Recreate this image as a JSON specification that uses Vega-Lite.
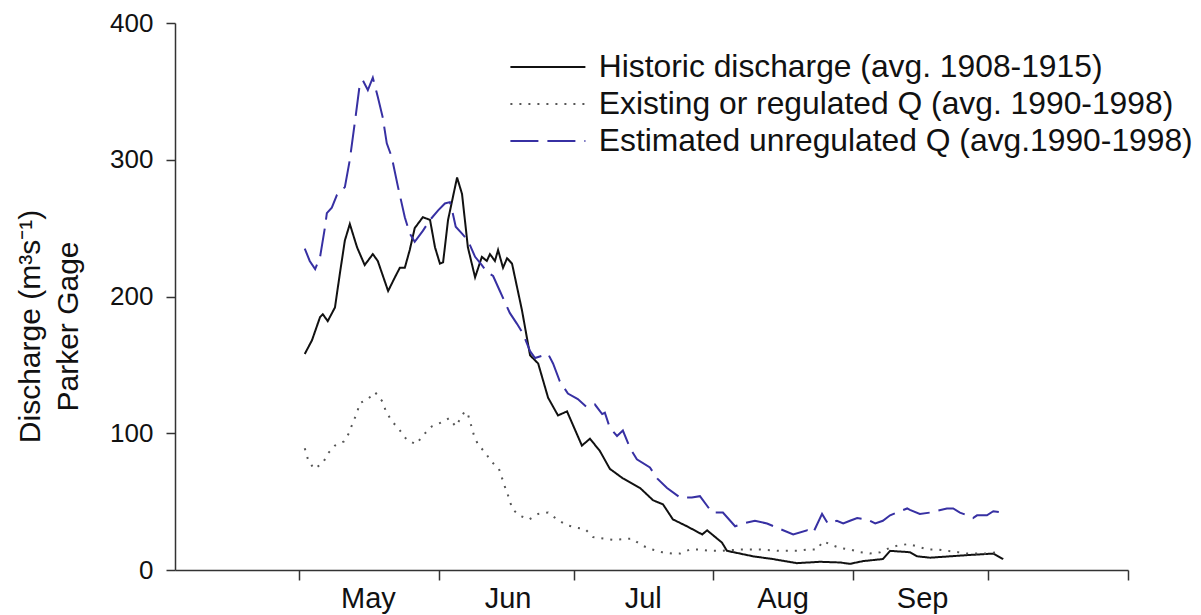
{
  "$schema": "https://vega.github.io/schema/vega-lite/v6.json",
  "autosize": {"type": "none"},
  "padding": {"left": 175, "top": 23, "right": 73, "bottom": 45},
  "width": 953,
  "height": 547,
  "background": "white",
  "config": {
    "view": {"stroke": null},
    "font": "Liberation Sans"
  },
  "data": {
    "values": [
      {"s": "Historic discharge (avg. 1908-1915)", "d": 122.3, "q": 158},
      {"s": "Historic discharge (avg. 1908-1915)", "d": 123.9, "q": 168},
      {"s": "Historic discharge (avg. 1908-1915)", "d": 125.7, "q": 185},
      {"s": "Historic discharge (avg. 1908-1915)", "d": 126.3, "q": 187},
      {"s": "Historic discharge (avg. 1908-1915)", "d": 127.4, "q": 182},
      {"s": "Historic discharge (avg. 1908-1915)", "d": 129.0, "q": 192},
      {"s": "Historic discharge (avg. 1908-1915)", "d": 130.1, "q": 217},
      {"s": "Historic discharge (avg. 1908-1915)", "d": 131.2, "q": 241},
      {"s": "Historic discharge (avg. 1908-1915)", "d": 132.3, "q": 253},
      {"s": "Historic discharge (avg. 1908-1915)", "d": 133.9, "q": 236},
      {"s": "Historic discharge (avg. 1908-1915)", "d": 135.6, "q": 223},
      {"s": "Historic discharge (avg. 1908-1915)", "d": 137.4, "q": 231},
      {"s": "Historic discharge (avg. 1908-1915)", "d": 138.5, "q": 226},
      {"s": "Historic discharge (avg. 1908-1915)", "d": 140.8, "q": 204},
      {"s": "Historic discharge (avg. 1908-1915)", "d": 142.3, "q": 214},
      {"s": "Historic discharge (avg. 1908-1915)", "d": 143.4, "q": 221},
      {"s": "Historic discharge (avg. 1908-1915)", "d": 144.5, "q": 221},
      {"s": "Historic discharge (avg. 1908-1915)", "d": 145.6, "q": 234},
      {"s": "Historic discharge (avg. 1908-1915)", "d": 146.7, "q": 250},
      {"s": "Historic discharge (avg. 1908-1915)", "d": 148.5, "q": 258},
      {"s": "Historic discharge (avg. 1908-1915)", "d": 150.1, "q": 256},
      {"s": "Historic discharge (avg. 1908-1915)", "d": 151.2, "q": 236},
      {"s": "Historic discharge (avg. 1908-1915)", "d": 152.3, "q": 224},
      {"s": "Historic discharge (avg. 1908-1915)", "d": 153.0, "q": 225},
      {"s": "Historic discharge (avg. 1908-1915)", "d": 154.1, "q": 256},
      {"s": "Historic discharge (avg. 1908-1915)", "d": 156.1, "q": 287},
      {"s": "Historic discharge (avg. 1908-1915)", "d": 157.2, "q": 275},
      {"s": "Historic discharge (avg. 1908-1915)", "d": 158.5, "q": 236},
      {"s": "Historic discharge (avg. 1908-1915)", "d": 160.1, "q": 214},
      {"s": "Historic discharge (avg. 1908-1915)", "d": 161.6, "q": 229},
      {"s": "Historic discharge (avg. 1908-1915)", "d": 162.7, "q": 226},
      {"s": "Historic discharge (avg. 1908-1915)", "d": 163.4, "q": 231},
      {"s": "Historic discharge (avg. 1908-1915)", "d": 164.5, "q": 226},
      {"s": "Historic discharge (avg. 1908-1915)", "d": 165.2, "q": 234},
      {"s": "Historic discharge (avg. 1908-1915)", "d": 166.3, "q": 221},
      {"s": "Historic discharge (avg. 1908-1915)", "d": 167.2, "q": 228},
      {"s": "Historic discharge (avg. 1908-1915)", "d": 168.3, "q": 224},
      {"s": "Historic discharge (avg. 1908-1915)", "d": 170.5, "q": 190},
      {"s": "Historic discharge (avg. 1908-1915)", "d": 172.3, "q": 157},
      {"s": "Historic discharge (avg. 1908-1915)", "d": 174.1, "q": 151},
      {"s": "Historic discharge (avg. 1908-1915)", "d": 176.3, "q": 126},
      {"s": "Historic discharge (avg. 1908-1915)", "d": 178.5, "q": 113},
      {"s": "Historic discharge (avg. 1908-1915)", "d": 180.5, "q": 116},
      {"s": "Historic discharge (avg. 1908-1915)", "d": 183.8, "q": 91},
      {"s": "Historic discharge (avg. 1908-1915)", "d": 185.6, "q": 96},
      {"s": "Historic discharge (avg. 1908-1915)", "d": 187.8, "q": 87},
      {"s": "Historic discharge (avg. 1908-1915)", "d": 190.0, "q": 74},
      {"s": "Historic discharge (avg. 1908-1915)", "d": 192.9, "q": 67},
      {"s": "Historic discharge (avg. 1908-1915)", "d": 196.7, "q": 60},
      {"s": "Historic discharge (avg. 1908-1915)", "d": 199.6, "q": 51},
      {"s": "Historic discharge (avg. 1908-1915)", "d": 201.8, "q": 48},
      {"s": "Historic discharge (avg. 1908-1915)", "d": 204.0, "q": 37},
      {"s": "Historic discharge (avg. 1908-1915)", "d": 207.1, "q": 32},
      {"s": "Historic discharge (avg. 1908-1915)", "d": 210.5, "q": 26},
      {"s": "Historic discharge (avg. 1908-1915)", "d": 211.6, "q": 29},
      {"s": "Historic discharge (avg. 1908-1915)", "d": 214.9, "q": 20},
      {"s": "Historic discharge (avg. 1908-1915)", "d": 216.0, "q": 14},
      {"s": "Historic discharge (avg. 1908-1915)", "d": 218.9, "q": 12},
      {"s": "Historic discharge (avg. 1908-1915)", "d": 221.8, "q": 10},
      {"s": "Historic discharge (avg. 1908-1915)", "d": 226.2, "q": 8},
      {"s": "Historic discharge (avg. 1908-1915)", "d": 231.5, "q": 5},
      {"s": "Historic discharge (avg. 1908-1915)", "d": 236.6, "q": 6},
      {"s": "Historic discharge (avg. 1908-1915)", "d": 241.1, "q": 5.5},
      {"s": "Historic discharge (avg. 1908-1915)", "d": 243.3, "q": 4.5},
      {"s": "Historic discharge (avg. 1908-1915)", "d": 246.2, "q": 6.5},
      {"s": "Historic discharge (avg. 1908-1915)", "d": 250.6, "q": 8},
      {"s": "Historic discharge (avg. 1908-1915)", "d": 252.2, "q": 14},
      {"s": "Historic discharge (avg. 1908-1915)", "d": 256.6, "q": 13},
      {"s": "Historic discharge (avg. 1908-1915)", "d": 258.2, "q": 10},
      {"s": "Historic discharge (avg. 1908-1915)", "d": 261.1, "q": 9},
      {"s": "Historic discharge (avg. 1908-1915)", "d": 265.5, "q": 10},
      {"s": "Historic discharge (avg. 1908-1915)", "d": 269.9, "q": 11},
      {"s": "Historic discharge (avg. 1908-1915)", "d": 275.1, "q": 12},
      {"s": "Historic discharge (avg. 1908-1915)", "d": 277.3, "q": 8},

      {"s": "Existing or regulated Q (avg. 1990-1998)", "d": 122.3, "q": 89},
      {"s": "Existing or regulated Q (avg. 1990-1998)", "d": 123.0, "q": 81},
      {"s": "Existing or regulated Q (avg. 1990-1998)", "d": 124.3, "q": 74},
      {"s": "Existing or regulated Q (avg. 1990-1998)", "d": 126.3, "q": 78},
      {"s": "Existing or regulated Q (avg. 1990-1998)", "d": 127.4, "q": 85},
      {"s": "Existing or regulated Q (avg. 1990-1998)", "d": 129.0, "q": 91},
      {"s": "Existing or regulated Q (avg. 1990-1998)", "d": 131.0, "q": 94},
      {"s": "Existing or regulated Q (avg. 1990-1998)", "d": 132.1, "q": 100},
      {"s": "Existing or regulated Q (avg. 1990-1998)", "d": 133.0, "q": 108},
      {"s": "Existing or regulated Q (avg. 1990-1998)", "d": 133.9, "q": 115},
      {"s": "Existing or regulated Q (avg. 1990-1998)", "d": 134.5, "q": 122},
      {"s": "Existing or regulated Q (avg. 1990-1998)", "d": 136.3, "q": 125},
      {"s": "Existing or regulated Q (avg. 1990-1998)", "d": 137.9, "q": 130},
      {"s": "Existing or regulated Q (avg. 1990-1998)", "d": 139.6, "q": 123},
      {"s": "Existing or regulated Q (avg. 1990-1998)", "d": 140.3, "q": 116},
      {"s": "Existing or regulated Q (avg. 1990-1998)", "d": 141.6, "q": 109},
      {"s": "Existing or regulated Q (avg. 1990-1998)", "d": 143.2, "q": 103},
      {"s": "Existing or regulated Q (avg. 1990-1998)", "d": 145.0, "q": 95},
      {"s": "Existing or regulated Q (avg. 1990-1998)", "d": 147.0, "q": 92},
      {"s": "Existing or regulated Q (avg. 1990-1998)", "d": 148.7, "q": 99},
      {"s": "Existing or regulated Q (avg. 1990-1998)", "d": 150.5, "q": 105},
      {"s": "Existing or regulated Q (avg. 1990-1998)", "d": 152.7, "q": 108},
      {"s": "Existing or regulated Q (avg. 1990-1998)", "d": 154.3, "q": 111},
      {"s": "Existing or regulated Q (avg. 1990-1998)", "d": 155.8, "q": 105},
      {"s": "Existing or regulated Q (avg. 1990-1998)", "d": 156.7, "q": 110},
      {"s": "Existing or regulated Q (avg. 1990-1998)", "d": 157.8, "q": 116},
      {"s": "Existing or regulated Q (avg. 1990-1998)", "d": 158.5, "q": 114},
      {"s": "Existing or regulated Q (avg. 1990-1998)", "d": 159.2, "q": 106},
      {"s": "Existing or regulated Q (avg. 1990-1998)", "d": 159.8, "q": 99},
      {"s": "Existing or regulated Q (avg. 1990-1998)", "d": 160.7, "q": 92},
      {"s": "Existing or regulated Q (avg. 1990-1998)", "d": 162.3, "q": 86},
      {"s": "Existing or regulated Q (avg. 1990-1998)", "d": 163.8, "q": 79},
      {"s": "Existing or regulated Q (avg. 1990-1998)", "d": 165.4, "q": 74},
      {"s": "Existing or regulated Q (avg. 1990-1998)", "d": 166.1, "q": 67},
      {"s": "Existing or regulated Q (avg. 1990-1998)", "d": 166.9, "q": 59},
      {"s": "Existing or regulated Q (avg. 1990-1998)", "d": 167.6, "q": 53},
      {"s": "Existing or regulated Q (avg. 1990-1998)", "d": 168.3, "q": 45},
      {"s": "Existing or regulated Q (avg. 1990-1998)", "d": 169.8, "q": 40},
      {"s": "Existing or regulated Q (avg. 1990-1998)", "d": 172.1, "q": 37},
      {"s": "Existing or regulated Q (avg. 1990-1998)", "d": 174.1, "q": 41},
      {"s": "Existing or regulated Q (avg. 1990-1998)", "d": 176.3, "q": 42},
      {"s": "Existing or regulated Q (avg. 1990-1998)", "d": 178.3, "q": 37},
      {"s": "Existing or regulated Q (avg. 1990-1998)", "d": 180.3, "q": 33},
      {"s": "Existing or regulated Q (avg. 1990-1998)", "d": 182.5, "q": 31},
      {"s": "Existing or regulated Q (avg. 1990-1998)", "d": 184.5, "q": 30},
      {"s": "Existing or regulated Q (avg. 1990-1998)", "d": 186.3, "q": 24},
      {"s": "Existing or regulated Q (avg. 1990-1998)", "d": 190.7, "q": 22},
      {"s": "Existing or regulated Q (avg. 1990-1998)", "d": 194.9, "q": 23},
      {"s": "Existing or regulated Q (avg. 1990-1998)", "d": 197.1, "q": 18},
      {"s": "Existing or regulated Q (avg. 1990-1998)", "d": 199.4, "q": 15},
      {"s": "Existing or regulated Q (avg. 1990-1998)", "d": 201.6, "q": 13},
      {"s": "Existing or regulated Q (avg. 1990-1998)", "d": 203.8, "q": 12},
      {"s": "Existing or regulated Q (avg. 1990-1998)", "d": 205.6, "q": 12},
      {"s": "Existing or regulated Q (avg. 1990-1998)", "d": 207.8, "q": 15},
      {"s": "Existing or regulated Q (avg. 1990-1998)", "d": 210.0, "q": 15},
      {"s": "Existing or regulated Q (avg. 1990-1998)", "d": 212.2, "q": 14},
      {"s": "Existing or regulated Q (avg. 1990-1998)", "d": 214.5, "q": 14},
      {"s": "Existing or regulated Q (avg. 1990-1998)", "d": 218.9, "q": 15},
      {"s": "Existing or regulated Q (avg. 1990-1998)", "d": 223.3, "q": 15},
      {"s": "Existing or regulated Q (avg. 1990-1998)", "d": 227.8, "q": 14},
      {"s": "Existing or regulated Q (avg. 1990-1998)", "d": 231.5, "q": 14},
      {"s": "Existing or regulated Q (avg. 1990-1998)", "d": 233.8, "q": 15},
      {"s": "Existing or regulated Q (avg. 1990-1998)", "d": 236.0, "q": 15},
      {"s": "Existing or regulated Q (avg. 1990-1998)", "d": 237.3, "q": 21},
      {"s": "Existing or regulated Q (avg. 1990-1998)", "d": 239.5, "q": 18},
      {"s": "Existing or regulated Q (avg. 1990-1998)", "d": 241.1, "q": 16},
      {"s": "Existing or regulated Q (avg. 1990-1998)", "d": 243.3, "q": 15},
      {"s": "Existing or regulated Q (avg. 1990-1998)", "d": 245.6, "q": 13},
      {"s": "Existing or regulated Q (avg. 1990-1998)", "d": 247.7, "q": 12},
      {"s": "Existing or regulated Q (avg. 1990-1998)", "d": 250.0, "q": 13},
      {"s": "Existing or regulated Q (avg. 1990-1998)", "d": 252.0, "q": 16},
      {"s": "Existing or regulated Q (avg. 1990-1998)", "d": 254.0, "q": 18},
      {"s": "Existing or regulated Q (avg. 1990-1998)", "d": 256.4, "q": 19},
      {"s": "Existing or regulated Q (avg. 1990-1998)", "d": 258.4, "q": 17},
      {"s": "Existing or regulated Q (avg. 1990-1998)", "d": 260.6, "q": 15},
      {"s": "Existing or regulated Q (avg. 1990-1998)", "d": 262.8, "q": 15},
      {"s": "Existing or regulated Q (avg. 1990-1998)", "d": 265.1, "q": 14},
      {"s": "Existing or regulated Q (avg. 1990-1998)", "d": 267.3, "q": 13},
      {"s": "Existing or regulated Q (avg. 1990-1998)", "d": 269.3, "q": 12},
      {"s": "Existing or regulated Q (avg. 1990-1998)", "d": 271.5, "q": 12},
      {"s": "Existing or regulated Q (avg. 1990-1998)", "d": 273.7, "q": 12},
      {"s": "Existing or regulated Q (avg. 1990-1998)", "d": 275.9, "q": 13},

      {"s": "Estimated unregulated Q (avg.1990-1998)", "d": 122.3, "q": 235},
      {"s": "Estimated unregulated Q (avg.1990-1998)", "d": 123.4, "q": 226},
      {"s": "Estimated unregulated Q (avg.1990-1998)", "d": 124.6, "q": 220},
      {"s": "Estimated unregulated Q (avg.1990-1998)", "d": 125.7, "q": 229},
      {"s": "Estimated unregulated Q (avg.1990-1998)", "d": 126.8, "q": 251},
      {"s": "Estimated unregulated Q (avg.1990-1998)", "d": 127.2, "q": 261},
      {"s": "Estimated unregulated Q (avg.1990-1998)", "d": 128.3, "q": 265},
      {"s": "Estimated unregulated Q (avg.1990-1998)", "d": 129.4, "q": 274},
      {"s": "Estimated unregulated Q (avg.1990-1998)", "d": 131.2, "q": 280},
      {"s": "Estimated unregulated Q (avg.1990-1998)", "d": 132.3, "q": 300},
      {"s": "Estimated unregulated Q (avg.1990-1998)", "d": 133.4, "q": 327},
      {"s": "Estimated unregulated Q (avg.1990-1998)", "d": 134.5, "q": 355},
      {"s": "Estimated unregulated Q (avg.1990-1998)", "d": 135.2, "q": 358},
      {"s": "Estimated unregulated Q (avg.1990-1998)", "d": 136.3, "q": 351},
      {"s": "Estimated unregulated Q (avg.1990-1998)", "d": 137.4, "q": 360},
      {"s": "Estimated unregulated Q (avg.1990-1998)", "d": 138.5, "q": 346},
      {"s": "Estimated unregulated Q (avg.1990-1998)", "d": 139.6, "q": 331},
      {"s": "Estimated unregulated Q (avg.1990-1998)", "d": 140.5, "q": 312},
      {"s": "Estimated unregulated Q (avg.1990-1998)", "d": 141.6, "q": 302},
      {"s": "Estimated unregulated Q (avg.1990-1998)", "d": 143.0, "q": 280},
      {"s": "Estimated unregulated Q (avg.1990-1998)", "d": 144.5, "q": 258},
      {"s": "Estimated unregulated Q (avg.1990-1998)", "d": 145.6, "q": 246},
      {"s": "Estimated unregulated Q (avg.1990-1998)", "d": 146.7, "q": 240},
      {"s": "Estimated unregulated Q (avg.1990-1998)", "d": 148.5, "q": 248},
      {"s": "Estimated unregulated Q (avg.1990-1998)", "d": 150.1, "q": 256},
      {"s": "Estimated unregulated Q (avg.1990-1998)", "d": 151.9, "q": 263},
      {"s": "Estimated unregulated Q (avg.1990-1998)", "d": 153.4, "q": 268},
      {"s": "Estimated unregulated Q (avg.1990-1998)", "d": 154.5, "q": 269},
      {"s": "Estimated unregulated Q (avg.1990-1998)", "d": 155.0, "q": 263},
      {"s": "Estimated unregulated Q (avg.1990-1998)", "d": 155.8, "q": 251},
      {"s": "Estimated unregulated Q (avg.1990-1998)", "d": 157.2, "q": 246},
      {"s": "Estimated unregulated Q (avg.1990-1998)", "d": 158.5, "q": 241},
      {"s": "Estimated unregulated Q (avg.1990-1998)", "d": 160.1, "q": 229},
      {"s": "Estimated unregulated Q (avg.1990-1998)", "d": 161.6, "q": 223},
      {"s": "Estimated unregulated Q (avg.1990-1998)", "d": 162.7, "q": 218},
      {"s": "Estimated unregulated Q (avg.1990-1998)", "d": 164.1, "q": 215},
      {"s": "Estimated unregulated Q (avg.1990-1998)", "d": 165.6, "q": 204},
      {"s": "Estimated unregulated Q (avg.1990-1998)", "d": 167.8, "q": 188},
      {"s": "Estimated unregulated Q (avg.1990-1998)", "d": 169.4, "q": 180},
      {"s": "Estimated unregulated Q (avg.1990-1998)", "d": 170.7, "q": 173},
      {"s": "Estimated unregulated Q (avg.1990-1998)", "d": 172.3, "q": 160},
      {"s": "Estimated unregulated Q (avg.1990-1998)", "d": 173.4, "q": 155},
      {"s": "Estimated unregulated Q (avg.1990-1998)", "d": 176.3, "q": 158},
      {"s": "Estimated unregulated Q (avg.1990-1998)", "d": 177.4, "q": 151},
      {"s": "Estimated unregulated Q (avg.1990-1998)", "d": 178.9, "q": 138},
      {"s": "Estimated unregulated Q (avg.1990-1998)", "d": 180.7, "q": 129},
      {"s": "Estimated unregulated Q (avg.1990-1998)", "d": 182.9, "q": 125},
      {"s": "Estimated unregulated Q (avg.1990-1998)", "d": 184.9, "q": 119},
      {"s": "Estimated unregulated Q (avg.1990-1998)", "d": 186.7, "q": 121},
      {"s": "Estimated unregulated Q (avg.1990-1998)", "d": 188.3, "q": 114},
      {"s": "Estimated unregulated Q (avg.1990-1998)", "d": 188.9, "q": 115},
      {"s": "Estimated unregulated Q (avg.1990-1998)", "d": 190.0, "q": 104},
      {"s": "Estimated unregulated Q (avg.1990-1998)", "d": 191.6, "q": 98},
      {"s": "Estimated unregulated Q (avg.1990-1998)", "d": 192.9, "q": 102},
      {"s": "Estimated unregulated Q (avg.1990-1998)", "d": 194.5, "q": 89},
      {"s": "Estimated unregulated Q (avg.1990-1998)", "d": 196.0, "q": 81},
      {"s": "Estimated unregulated Q (avg.1990-1998)", "d": 198.9, "q": 75},
      {"s": "Estimated unregulated Q (avg.1990-1998)", "d": 200.5, "q": 67},
      {"s": "Estimated unregulated Q (avg.1990-1998)", "d": 202.7, "q": 60},
      {"s": "Estimated unregulated Q (avg.1990-1998)", "d": 205.6, "q": 53},
      {"s": "Estimated unregulated Q (avg.1990-1998)", "d": 208.2, "q": 53},
      {"s": "Estimated unregulated Q (avg.1990-1998)", "d": 210.0, "q": 54},
      {"s": "Estimated unregulated Q (avg.1990-1998)", "d": 212.7, "q": 42},
      {"s": "Estimated unregulated Q (avg.1990-1998)", "d": 215.1, "q": 42},
      {"s": "Estimated unregulated Q (avg.1990-1998)", "d": 217.8, "q": 32},
      {"s": "Estimated unregulated Q (avg.1990-1998)", "d": 219.6, "q": 34},
      {"s": "Estimated unregulated Q (avg.1990-1998)", "d": 222.2, "q": 36},
      {"s": "Estimated unregulated Q (avg.1990-1998)", "d": 224.9, "q": 34},
      {"s": "Estimated unregulated Q (avg.1990-1998)", "d": 227.8, "q": 30},
      {"s": "Estimated unregulated Q (avg.1990-1998)", "d": 230.7, "q": 26},
      {"s": "Estimated unregulated Q (avg.1990-1998)", "d": 233.8, "q": 29},
      {"s": "Estimated unregulated Q (avg.1990-1998)", "d": 235.1, "q": 27},
      {"s": "Estimated unregulated Q (avg.1990-1998)", "d": 237.1, "q": 41},
      {"s": "Estimated unregulated Q (avg.1990-1998)", "d": 238.4, "q": 34},
      {"s": "Estimated unregulated Q (avg.1990-1998)", "d": 240.4, "q": 36},
      {"s": "Estimated unregulated Q (avg.1990-1998)", "d": 241.8, "q": 34},
      {"s": "Estimated unregulated Q (avg.1990-1998)", "d": 243.3, "q": 36},
      {"s": "Estimated unregulated Q (avg.1990-1998)", "d": 244.9, "q": 38},
      {"s": "Estimated unregulated Q (avg.1990-1998)", "d": 247.1, "q": 37},
      {"s": "Estimated unregulated Q (avg.1990-1998)", "d": 248.9, "q": 34},
      {"s": "Estimated unregulated Q (avg.1990-1998)", "d": 250.6, "q": 36},
      {"s": "Estimated unregulated Q (avg.1990-1998)", "d": 252.2, "q": 40},
      {"s": "Estimated unregulated Q (avg.1990-1998)", "d": 254.4, "q": 43},
      {"s": "Estimated unregulated Q (avg.1990-1998)", "d": 256.0, "q": 45},
      {"s": "Estimated unregulated Q (avg.1990-1998)", "d": 256.6, "q": 44},
      {"s": "Estimated unregulated Q (avg.1990-1998)", "d": 258.8, "q": 41},
      {"s": "Estimated unregulated Q (avg.1990-1998)", "d": 261.1, "q": 42},
      {"s": "Estimated unregulated Q (avg.1990-1998)", "d": 264.8, "q": 45},
      {"s": "Estimated unregulated Q (avg.1990-1998)", "d": 266.2, "q": 45},
      {"s": "Estimated unregulated Q (avg.1990-1998)", "d": 267.7, "q": 42},
      {"s": "Estimated unregulated Q (avg.1990-1998)", "d": 269.3, "q": 40},
      {"s": "Estimated unregulated Q (avg.1990-1998)", "d": 270.6, "q": 38},
      {"s": "Estimated unregulated Q (avg.1990-1998)", "d": 271.5, "q": 40},
      {"s": "Estimated unregulated Q (avg.1990-1998)", "d": 273.7, "q": 40},
      {"s": "Estimated unregulated Q (avg.1990-1998)", "d": 275.1, "q": 43},
      {"s": "Estimated unregulated Q (avg.1990-1998)", "d": 277.3, "q": 42}
    ]
  },
  "mark": {"type": "line", "strokeWidth": 2, "strokeCap": "butt"},
  "encoding": {
    "x": {
      "field": "d", "type": "quantitative",
      "scale": {"domain": [93.5, 305], "nice": false, "zero": false},
      "axis": {
        "title": null,
        "values": [121, 152, 182, 213, 244, 274, 305],
        "labelExpr": "datum.value == 121 ? 'May' : datum.value == 152 ? 'Jun' : datum.value == 182 ? 'Jul' : datum.value == 213 ? 'Aug' : datum.value == 244 ? 'Sep' : ''",
        "labelOffset": 69,
        "labelOverlap": false,
        "labelBound": false,
        "labelFlush": false,
        "labelFont": "Liberation Sans",
        "labelFontSize": 29,
        "labelColor": "#111111",
        "labelPadding": 4,
        "tickSize": 10,
        "tickColor": "#333333",
        "tickWidth": 1.5,
        "domainColor": "#333333",
        "domainWidth": 1.5,
        "grid": false
      }
    },
    "y": {
      "field": "q", "type": "quantitative",
      "scale": {"domain": [0, 400], "nice": false},
      "axis": {
        "values": [0, 100, 200, 300, 400],
        "title": ["Discharge (m³s⁻¹)", "Parker Gage"],
        "titleFont": "Liberation Sans",
        "titleFontSize": 30,
        "titleFontWeight": "normal",
        "titleColor": "#111111",
        "titleAngle": 270,
        "titleAlign": "center",
        "titleBaseline": "top",
        "titleX": -160,
        "titleY": 303,
        "titleLineHeight": 38,
        "labelFont": "Liberation Sans",
        "labelFontSize": 26,
        "labelColor": "#111111",
        "labelPadding": 13,
        "tickSize": 9,
        "tickColor": "#333333",
        "tickWidth": 1.5,
        "domainColor": "#333333",
        "domainWidth": 1.5,
        "grid": false
      }
    },
    "color": {
      "field": "s", "type": "nominal",
      "scale": {
        "domain": ["Historic discharge (avg. 1908-1915)", "Existing or regulated Q (avg. 1990-1998)", "Estimated unregulated Q (avg.1990-1998)"],
        "range": ["#111111", "#555555", "#3730a3"]
      },
      "legend": {
        "orient": "none",
        "legendX": 357,
        "legendY": 28,
        "title": null,
        "padding": 0,
        "labelFont": "Liberation Sans",
        "labelFontSize": 31.8,
        "labelColor": "#111111",
        "labelOffset": 35,
        "labelLimit": 0,
        "rowPadding": 4,
        "symbolType": "M-5,0H5",
        "symbolSize": 225,
        "symbolStrokeWidth": 2
      }
    },
    "strokeDash": {
      "field": "s", "type": "nominal",
      "scale": {
        "domain": ["Historic discharge (avg. 1908-1915)", "Existing or regulated Q (avg. 1990-1998)", "Estimated unregulated Q (avg.1990-1998)"],
        "range": [[1, 0], [2, 7], [28, 9]]
      },
      "legend": {
        "orient": "none",
        "legendX": 357,
        "legendY": 28,
        "title": null,
        "padding": 0,
        "labelFont": "Liberation Sans",
        "labelFontSize": 31.8,
        "labelColor": "#111111",
        "labelOffset": 35,
        "labelLimit": 0,
        "rowPadding": 4,
        "symbolType": "M-5,0H5",
        "symbolSize": 225,
        "symbolStrokeWidth": 2
      }
    }
  }
}
